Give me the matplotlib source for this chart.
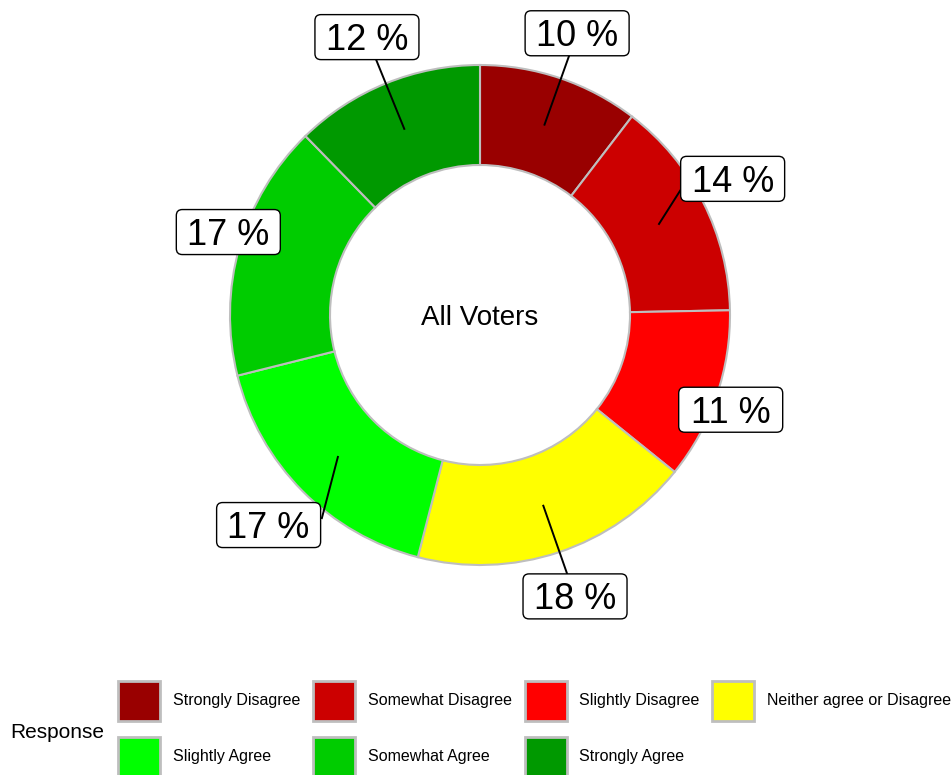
import numpy as np
import matplotlib.pyplot as plt
from matplotlib.patches import FancyBboxPatch, Patch

plt.rcParams["font.family"] = ["Liberation Sans", "DejaVu Sans"]

# data
responses = [
    "Strongly Disagree", "Somewhat Disagree", "Slightly Disagree",
    "Neither agree or Disagree", "Slightly Agree", "Somewhat Agree", "Strongly Agree",
]
shares = [10.4, 14.3, 11.1, 18.2, 17.1, 16.6, 12.3]
colors = ["#990000", "#CC0000", "#FF0000", "#FFFF00", "#00FF00", "#00CC00", "#009900"]
center_label = "All Voters"
legend_title = "Response"

# layout (axes units are pixels, y up)
W, H = 951, 775
CX, CY = 480, H - 315
R_OUT, R_IN = 250, 150
label_r = [298, 287, 268, 297, 298, 265, 300]
label_nudge = [0.3, -1.5, 1.8, -0.3, 0.0, 2.4, 0.0]  # degrees, clockwise
# where the leader line meets the label box, relative to box centre
line_end = [(0, 0), (-52, -11), (0, 0), (0, 0), (53, 6), (0, 0), (0, 0)]
BOX_W, BOX_H = 104, 45

fig = plt.figure(figsize=(W / 100, H / 100), dpi=100)
ax = fig.add_axes([0, 0, 1, 1])

wedges, _ = ax.pie(
    shares, colors=colors, startangle=90, counterclock=False,
    radius=R_OUT, center=(CX, CY),
    wedgeprops=dict(width=R_OUT - R_IN, edgecolor="#BEBEBE", linewidth=1.5),
)
ax.set_xlim(0, W)
ax.set_ylim(0, H)
ax.set_aspect("equal")
ax.axis("off")

ax.text(CX, CY - 10, center_label, fontsize=20, ha="center", va="baseline")

r_mid = (R_OUT + R_IN) / 2
for w, s, lr, nudge, (ex, ey) in zip(wedges, shares, label_r, label_nudge, line_end):
    mid = np.deg2rad((w.theta1 + w.theta2) / 2)
    phi = mid - np.deg2rad(nudge)
    px, py = CX + r_mid * np.cos(mid), CY + r_mid * np.sin(mid)
    lx, ly = CX + lr * np.cos(phi), CY + lr * np.sin(phi)
    if lr > 275:
        ax.plot([px, lx + ex], [py, ly + ey], color="black", lw=1.4, zorder=3,
                solid_capstyle="butt")
    box = FancyBboxPatch((lx - BOX_W / 2, ly - BOX_H / 2), BOX_W, BOX_H,
                         boxstyle="round,pad=0,rounding_size=6",
                         fc="white", ec="black", lw=1.0, zorder=4)
    ax.add_patch(box)
    ax.text(lx, ly - 13, f"{round(s)} %", fontsize=26, ha="center",
            va="baseline", zorder=5)

# legend, filled row by row like the reference
handles = [Patch(facecolor=c, edgecolor="#BEBEBE", linewidth=2) for c in colors]
order = [0, 4, 1, 5, 2, 6, 3]
fig.legend(
    [handles[i] for i in order], [responses[i] for i in order],
    ncols=4, loc="upper left", bbox_to_anchor=(118 / W, 1 - 681 / H),
    frameon=False, fontsize=11.5, handlelength=2.63, handleheight=3.47,
    handletextpad=0.8, columnspacing=0.8, labelspacing=1.0,
    borderpad=0, borderaxespad=0,
)
ax.text(10, H - 738, legend_title, fontsize=15, ha="left", va="baseline")

fig.savefig("out.png", dpi=100)
